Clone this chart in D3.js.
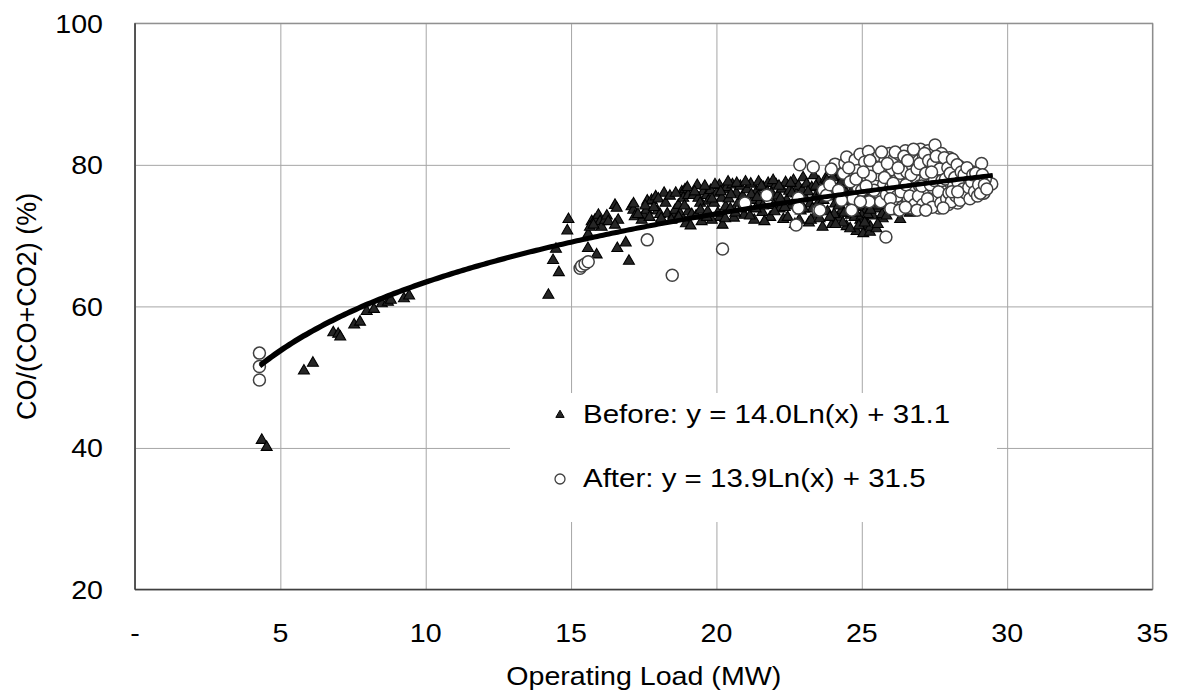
<!DOCTYPE html>
<html><head><meta charset="utf-8">
<script src="https://cdn.jsdelivr.net/npm/d3@7"></script>
<style>
html,body{margin:0;padding:0;background:#fff;}
svg{display:block;}
text{font-family:"Liberation Sans",Arial,sans-serif;fill:#000;}
</style></head>
<body>
<svg id="chart" width="1178" height="692"></svg>
<script>
// ---------- data ----------
const xTickValues = [0, 5, 10, 15, 20, 25, 30, 35];
const xTickLabels = ["-", "5", "10", "15", "20", "25", "30", "35"];
const yTickValues = [20, 40, 60, 80, 100];
const xTitle = "Operating Load (MW)";
const yTitle = "CO/(CO+CO2) (%)";
const seriesNames = ["Before: y = 14.0Ln(x) + 31.1", "After: y = 13.9Ln(x) + 31.5"];
const fitCoef = [[14.0, 31.1], [13.9, 31.5]];
const fitRange = [4.3, 29.5];

const beforeX = [4.36,4.53,5.81,6.12,6.82,6.99,7.06,7.54,7.74,7.97,8.22,8.49,8.70,8.80,9.25,9.43,
14.22,14.38,14.48,14.58,14.87,14.91,
15.59,15.58,15.88,15.71,15.82,15.94,16.0,16.05,16.17,16.23,16.28,15.65,15.77,16.51,16.57,16.62,16.51,16.59,16.88,16.99,17.08,17.14,17.19,17.15,17.43,17.49,17.60,17.62,17.77,17.91,17.97,18.20,18.06,18.31,18.52,18.58,18.69,18.75,18.81,18.92,18.86,19.03,19.03,18.95,19.11,19.21,19.34,19.38,19.44,19.55,19.67,19.72,19.80,19.92,20.01,20.10,20.24,20.18,20.32,20.12,20.21,19.84,19.49,19.67,
20.35,20.42,20.48,20.55,20.6,20.68,20.75,20.82,20.9,20.95,
21.05,21.1,21.18,21.25,21.3,21.38,21.45,21.5,21.58,21.62,21.7,21.78,21.85,21.9,21.97,
22.05,22.1,22.18,22.25,22.3,22.38,22.42,22.5,22.58,22.65,22.7,22.75,22.82,22.9,22.95,22.98,
23.05,23.1,23.18,23.22,23.28,23.35,23.4,23.45,23.52,23.58,23.65,23.7,23.75,23.82,23.88,23.92,23.98,
24.02,24.08,24.12,24.18,24.22,24.28,24.32,24.38,24.42,24.48,24.52,24.58,24.62,24.68,24.72,24.78,24.82,24.85,24.9,24.95,24.98,
25.02,25.05,25.1,25.12,25.18,25.22,25.25,25.28,25.32,25.38,25.42,25.48,25.55,25.6,25.65,25.72,25.8,25.88,25.95,26.05,26.12,26.2,26.32,26.4,26.5,26.6,26.72,26.78,
24.05,24.15,24.25,24.35,24.45,24.55,24.65,24.75,24.88,24.92,25.0,25.08,25.15,25.2,25.3,25.35,25.45,25.5,23.5,23.6,23.3,22.6,22.2,21.6,21.2,
17.3,17.55,17.7,17.85,18.0,18.1,18.25,18.4,18.45,18.6,18.7,18.9,19.0,19.15,19.25,19.3,19.45,19.6,19.7,19.85,19.95,20.05,20.15,20.3,20.4,20.5,20.65,20.7,20.85,21.0,
21.15,21.35,21.4,21.55,21.65,21.75,21.95,22.0,22.15,22.35,22.45,22.55,22.7,22.85,22.92,23.0,23.15,23.25,23.42,23.55,23.68,23.8,23.9,24.0,24.1,24.2,24.3,24.4,24.5,24.6,
24.7,24.8,24.9,25.0,25.1,25.2,25.3,25.4,25.55,25.6,25.7,25.85,25.9,26.0,26.15,26.25,26.45,26.55,26.65,26.8];
const beforeY = [41.1,40.1,50.9,52.0,56.3,56.1,55.7,57.4,57.8,59.3,59.6,60.4,60.6,60.9,61.1,61.5,
61.6,66.5,68.1,64.8,70.7,72.3,
70.2,68.2,67.3,72.0,72.2,72.9,72.0,71.2,72.2,72.8,72.0,71.2,71.5,74.3,73.9,72.2,71.5,68.2,69.0,66.4,74.1,73.6,72.7,74.5,72.2,72.9,73.6,74.9,75.0,75.5,73.5,76.0,73.0,73.1,72.9,73.6,74.3,73.1,76.2,76.5,75.3,75.7,73.4,71.7,71.4,75.7,77.1,75.3,74.6,76.2,75.7,74.9,76.4,74.6,76.0,77.1,76.5,75.3,74.1,72.6,71.5,72.2,72.0,72.6,
76.8,75.2,73.8,77.2,72.5,76.0,74.6,77.0,75.6,72.9,
76.5,74.1,77.3,75.0,72.2,76.2,77.6,74.8,73.3,76.8,75.4,77.4,72.6,76.0,74.3,
77.2,75.6,73.8,76.6,72.3,77.5,75.0,76.3,74.2,77.8,71.6,75.9,77.0,73.5,76.4,78.2,
75.3,77.3,71.8,74.5,76.8,78.5,72.9,75.8,77.6,74.0,71.2,76.5,78.0,73.4,75.5,77.2,71.6,
76.0,74.5,78.4,72.5,77.0,75.2,73.6,76.6,78.9,71.3,74.8,77.4,72.9,76.0,78.2,74.0,70.6,75.6,77.8,72.2,76.8,
74.6,70.3,78.6,73.4,76.2,71.5,77.5,70.5,75.0,72.8,78.0,76.4,73.8,77.0,75.2,72.4,76.6,74.2,77.6,75.6,73.4,76.8,72.3,75.0,77.2,74.4,73.9,75.8,
73.0,75.8,79.0,71.8,77.2,73.2,79.2,72.6,74.2,79.0,72.8,75.6,77.8,73.0,71.2,76.8,74.2,71.0,74.6,76.2,73.8,76.0,75.2,74.2,75.8,
73.0,74.2,72.6,74.0,75.2,72.4,74.6,75.6,72.2,76.0,72.6,74.2,76.8,73.0,76.2,72.8,73.6,77.0,73.4,75.2,77.2,73.2,76.2,72.4,77.6,75.8,73.2,77.4,73.8,77.6,
72.8,73.8,75.4,77.0,72.0,76.2,77.8,73.4,77.0,74.0,72.6,77.4,74.8,72.2,75.2,73.8,76.2,72.2,77.0,72.4,75.0,77.8,72.6,78.2,71.6,74.2,77.6,73.2,75.4,71.0,
76.6,73.2,71.4,77.2,71.8,75.4,73.6,74.8,71.6,75.8,73.0,72.8,75.4,74.0,75.0,73.8,74.2,76.0,73.2,74.6];

const afterX = [4.28,4.28,4.28,15.31,15.36,15.48,15.59,17.62,18.48,20.21,20.98,21.73,22.74,22.82,22.82,22.87,23.33,23.5,23.68,23.79,24.08,24.37,24.42,24.48,24.77,24.88,24.94,25.23,25.83,29.12,29.47,
24.6,24.7,24.85,25.0,25.1,25.2,25.25,23.9,24.2,23.56,
25.35,25.4,25.45,25.5,25.55,25.6,25.65,25.7,25.75,25.8,25.85,25.9,25.95,26.0,
26.05,26.1,26.12,26.18,26.22,26.28,26.32,26.38,26.42,26.46,26.5,26.55,26.6,26.62,26.68,26.72,26.75,26.8,26.85,26.88,26.92,26.96,26.99,
27.02,27.05,27.08,27.12,27.15,27.18,27.22,27.25,27.28,27.32,27.35,27.4,27.44,27.48,27.52,27.55,27.6,27.62,27.66,27.7,27.74,27.78,27.82,27.86,27.9,27.94,27.98,
28.02,28.06,28.1,28.14,28.18,28.22,28.26,28.3,28.35,28.4,28.45,28.5,28.55,28.6,28.65,28.7,28.75,28.8,28.85,28.9,28.95,29.0,29.05,29.1,29.2,29.25,
25.3,25.42,25.58,25.68,25.78,25.88,25.98,26.08,26.15,26.25,26.35,26.45,26.52,26.58,26.65,26.7,26.78,26.82,26.9,26.95,
27.0,27.06,27.1,27.16,27.2,27.26,27.3,27.36,27.42,27.46,27.5,27.56,27.64,27.68,27.72,27.76,27.84,27.88,27.92,27.96,
28.0,28.04,28.08,28.12,28.16,28.2,28.24,28.28,28.32,28.38,28.42,28.48,28.52,28.58,28.62,28.68,28.72,28.78,28.82,28.88,
28.92,28.98,29.02,29.08,29.15,29.22,29.3,26.0,26.3,26.5,26.9,27.2,27.4,27.8,28.1,28.3,
23.95,24.3,24.55,24.65,24.8,24.95,25.05,25.15,25.28];
const afterY = [53.4,51.5,49.6,65.4,65.7,66.0,66.3,69.4,64.4,68.1,74.6,75.7,71.5,75.3,73.9,80.0,79.7,73.6,76.4,75.7,80.1,78.8,80.2,81.1,80.7,76.7,81.5,81.9,69.8,80.2,77.3,
77.6,75.2,79.2,76.4,80.4,78.2,74.8,77.2,76.4,73.6,
79.6,77.5,80.8,76.2,78.6,81.3,74.8,79.8,77.2,80.6,75.8,78.4,81.6,76.8,
79.3,74.5,80.9,77.8,75.6,81.5,78.8,74.0,80.2,76.6,82.0,79.0,75.2,77.6,81.2,73.9,79.8,76.2,81.8,78.2,74.6,80.6,77.0,
82.2,75.4,79.2,81.0,73.8,77.8,80.0,76.0,82.0,78.6,74.4,81.4,76.8,79.6,82.8,75.0,78.0,80.8,73.9,77.0,81.6,79.0,75.6,80.2,76.4,78.4,74.4,
81.0,77.4,79.6,75.2,80.4,76.8,78.8,74.6,79.8,76.0,78.0,75.4,79.2,77.0,75.8,78.4,76.4,79.0,75.6,77.6,76.2,78.2,76.8,77.6,76.0,78.0,
78.4,76.4,79.6,81.8,78.2,80.2,75.2,77.4,81.8,79.6,76.2,81.2,77.2,80.6,75.6,78.6,82.2,74.4,79.4,75.6,
80.2,77.0,74.4,81.6,78.8,75.2,80.6,77.2,74.0,80.2,77.8,81.2,76.2,79.4,74.6,77.8,81.0,78.0,75.2,79.6,
76.0,78.8,74.8,80.8,77.0,78.2,75.6,80.0,77.4,75.0,79.0,76.6,78.6,76.0,79.6,76.8,75.2,77.6,78.6,76.2,
78.8,75.6,77.2,76.0,78.6,77.2,76.6,73.8,73.6,74.0,73.6,73.6,79.0,73.9,76.2,76.2,
79.4,75.0,79.6,73.6,78.0,74.8,79.0,77.0,80.6];

// ---------- layout ----------
const svg = d3.select("#chart");
const L = 135, R = 1152.5, T = 23.3, B = 589.5;
const x = d3.scaleLinear().domain([0, 35]).range([L, R]);
const y = d3.scaleLinear().domain([20, 100]).range([B, T]);

// gridlines
const gx = svg.append("g").attr("transform", `translate(0,${B})`)
  .call(d3.axisBottom(x).tickValues(xTickValues).tickSize(-(B - T)).tickFormat(""));
gx.select(".domain").remove();
gx.selectAll("line").attr("stroke", "#a6a6a6").attr("stroke-width", 1);
const gy = svg.append("g").attr("transform", `translate(${L},0)`)
  .call(d3.axisLeft(y).tickValues(yTickValues).tickSize(-(R - L)).tickFormat(""));
gy.select(".domain").remove();
gy.selectAll("line").attr("stroke", "#a6a6a6").attr("stroke-width", 1);

// plot border
svg.append("rect").attr("x", L).attr("y", T).attr("width", R - L).attr("height", B - T)
  .attr("fill", "none").attr("stroke", "#8c8c8c").attr("stroke-width", 1.2);
svg.append("line").attr("x1", L).attr("x2", L).attr("y1", T).attr("y2", B)
  .attr("stroke", "#404040").attr("stroke-width", 1.6);
svg.append("line").attr("x1", L).attr("x2", R).attr("y1", B).attr("y2", B)
  .attr("stroke", "#404040").attr("stroke-width", 1.6);

// helper for stretched text
function stext(px, py, str, size, sx, anchor, rot) {
  return svg.append("text")
    .attr("transform", `translate(${px},${py})` + (rot ? ` rotate(${rot}) scale(1,${sx})` : ` scale(${sx},1)`))
    .attr("font-size", size).attr("text-anchor", anchor).text(str);
}

// tick labels
xTickValues.forEach((v, i) => stext(x(v), 642, xTickLabels[i], 26, 1.1, "middle"));
yTickValues.forEach(v => stext(103, y(v) + 9.5, String(v), 26, 1.1, "end"));

// axis titles
stext((L + R) / 2, 685, xTitle, 26, 1.1, "middle");
stext(36, (T + B) / 2, yTitle, 27, 1.05, "middle", -90);

// markers
const triPath = d3.symbol().type(d3.symbolTriangle).size(52)();
const beforeData = beforeX.map((v, i) => [v, beforeY[i]]);
const afterData = afterX.map((v, i) => [v, afterY[i]]);

svg.append("g").selectAll("path").data(beforeData).join("path")
  .attr("d", triPath)
  .attr("transform", d => `translate(${x(d[0])},${y(d[1])})`)
  .attr("fill", "#262626").attr("stroke", "#000").attr("stroke-width", 1.1);

svg.append("g").selectAll("circle").data(afterData).join("circle")
  .attr("cx", d => x(d[0])).attr("cy", d => y(d[1])).attr("r", 6)
  .attr("fill", "#fff").attr("stroke", "#404040").attr("stroke-width", 1.5);

// trend lines
const line = d3.line().x(d => x(d[0])).y(d => y(d[1]));
fitCoef.forEach(c => {
  const pts = d3.range(fitRange[0], fitRange[1] + 0.001, 0.1).map(v => [v, c[0] * Math.log(v) + c[1]]);
  svg.append("path").datum(pts).attr("d", line)
    .attr("fill", "none").attr("stroke", "#000").attr("stroke-width", 4.2);
});

// legend
const lg = svg.append("g");
lg.append("rect").attr("x", 510).attr("y", 393).attr("width", 487).attr("height", 129).attr("fill", "#fff");
lg.append("path").attr("d", d3.symbol().type(d3.symbolTriangle).size(30)())
  .attr("transform", "translate(560,415)").attr("fill", "#262626").attr("stroke", "#000");
lg.append("circle").attr("cx", 560).attr("cy", 479).attr("r", 5)
  .attr("fill", "#fff").attr("stroke", "#404040").attr("stroke-width", 1.3);
stext(583, 423, seriesNames[0], 25, 1.18, "start");
stext(583, 487, seriesNames[1], 25, 1.18, "start");
</script>
</body></html>
